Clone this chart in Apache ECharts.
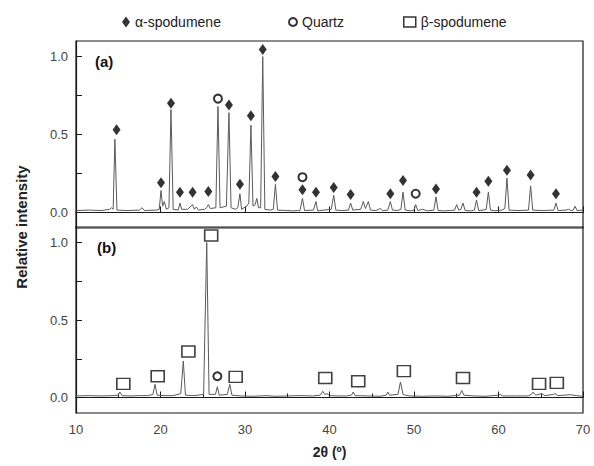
<!DOCTYPE html>
<html>
<head>
<meta charset="utf-8">
<script src="https://cdn.jsdelivr.net/npm/echarts@6/dist/echarts.min.js"></script>
<style>
  html, body { margin: 0; padding: 0; background: #fff; }
  #chart { width: 594px; height: 466px; }
</style>
</head>
<body>
<div id="chart"></div>
<script>
// XRD pattern (a): 2θ positions and relative intensities
const anglesA = [10.0, 11.5, 13.0, 14.0, 14.2, 14.4, 14.6, 14.85, 16.0, 17.5, 17.8, 18.1, 19.5, 19.85, 20.06, 20.25, 20.45, 20.7, 21.0, 21.24, 21.5, 22.1, 22.3, 22.5, 23.2, 23.5, 23.8, 24.0, 24.25, 24.5, 25.2, 25.45, 25.66, 25.9, 26.55, 26.8, 27.05, 27.8, 28.1, 28.35, 28.9, 29.15, 29.4, 29.6, 30.2, 30.45, 30.7, 30.95, 31.2, 31.4, 31.6, 31.85, 32.1, 32.35, 33.0, 33.35, 33.6, 33.85, 35.0, 35.6, 36.5, 36.8, 37.05, 38.1, 38.4, 38.6, 39.3, 40.2, 40.5, 40.75, 41.5, 42.25, 42.5, 42.75, 43.7, 44.0, 44.25, 44.6, 44.85, 45.5, 46.0, 46.3, 46.9, 47.2, 47.45, 48.0, 48.45, 48.7, 48.95, 49.6, 50.0, 50.2, 50.45, 51.0, 51.6, 52.35, 52.6, 52.85, 53.5, 54.3, 54.8, 55.05, 55.3, 55.55, 55.8, 56.05, 56.8, 57.15, 57.4, 57.65, 58.2, 58.55, 58.8, 59.05, 59.6, 60.4, 60.75, 61.0, 61.25, 62.3, 63.55, 63.8, 64.05, 65.2, 66.55, 66.8, 67.05, 68.0, 68.3, 68.6, 68.85, 69.05, 69.3, 70.0];
const intensityA = [0.012, 0.015, 0.012, 0.02, 0.03, 0.02, 0.47, 0.015, 0.012, 0.015, 0.03, 0.012, 0.015, 0.02, 0.14, 0.04, 0.07, 0.02, 0.03, 0.66, 0.02, 0.015, 0.06, 0.02, 0.02, 0.035, 0.05, 0.02, 0.035, 0.015, 0.02, 0.03, 0.05, 0.025, 0.03, 0.68, 0.03, 0.04, 0.64, 0.03, 0.02, 0.03, 0.12, 0.02, 0.04, 0.06, 0.56, 0.04, 0.05, 0.09, 0.03, 0.03, 1.0, 0.02, 0.015, 0.02, 0.18, 0.015, 0.012, 0.01, 0.012, 0.09, 0.012, 0.015, 0.07, 0.01, 0.015, 0.02, 0.11, 0.015, 0.012, 0.015, 0.06, 0.015, 0.02, 0.07, 0.025, 0.07, 0.015, 0.012, 0.025, 0.01, 0.015, 0.07, 0.015, 0.012, 0.02, 0.13, 0.015, 0.01, 0.015, 0.05, 0.012, 0.02, 0.01, 0.015, 0.10, 0.012, 0.01, 0.012, 0.015, 0.05, 0.015, 0.02, 0.06, 0.012, 0.01, 0.015, 0.08, 0.012, 0.015, 0.02, 0.13, 0.015, 0.01, 0.015, 0.025, 0.22, 0.015, 0.012, 0.015, 0.17, 0.015, 0.012, 0.015, 0.06, 0.012, 0.015, 0.02, 0.012, 0.015, 0.04, 0.012, 0.015];

// XRD pattern (b)
const anglesB = [10.0, 11.5, 13.0, 14.5, 15.0, 15.2, 15.45, 16.5, 17.5, 18.5, 19.1, 19.35, 19.6, 20.5, 21.5, 22.4, 22.7, 22.95, 24.0, 25.1, 25.47, 25.75, 26.5, 26.73, 26.95, 27.9, 28.2, 28.45, 29.5, 31.0, 32.5, 33.5, 35.0, 36.5, 38.0, 38.9, 39.2, 39.45, 39.7, 40.0, 41.0, 42.0, 42.6, 42.8, 43.05, 44.5, 46.0, 46.7, 46.9, 47.1, 48.1, 48.4, 48.7, 49.0, 49.5, 51.0, 52.5, 54.0, 55.4, 55.65, 55.9, 57.0, 58.5, 60.0, 60.2, 60.5, 62.0, 63.5, 63.9, 64.1, 64.4, 65.1, 65.5, 66.5, 66.7, 67.0, 68.5, 69.2, 70.0];
const intensityB = [0.01, 0.012, 0.01, 0.012, 0.015, 0.035, 0.012, 0.01, 0.012, 0.012, 0.02, 0.085, 0.015, 0.012, 0.012, 0.025, 0.235, 0.015, 0.012, 0.02, 1.0, 0.02, 0.02, 0.07, 0.015, 0.02, 0.085, 0.015, 0.01, 0.008, 0.012, 0.008, 0.01, 0.012, 0.01, 0.015, 0.04, 0.02, 0.025, 0.012, 0.01, 0.01, 0.015, 0.035, 0.012, 0.01, 0.008, 0.015, 0.035, 0.015, 0.02, 0.10, 0.02, 0.015, 0.01, 0.008, 0.01, 0.008, 0.015, 0.045, 0.015, 0.01, 0.008, 0.015, 0.02, 0.01, 0.01, 0.01, 0.02, 0.035, 0.015, 0.025, 0.012, 0.02, 0.025, 0.012, 0.018, 0.012, 0.008];

// Phase markers for (a)
const alphaAngles = [14.8, 20.06, 21.24, 22.3, 23.8, 25.66, 28.1, 29.4, 30.7, 32.1, 33.6, 36.8, 38.4, 40.5, 42.5, 47.2, 48.7, 52.6, 57.4, 58.8, 61.0, 63.8, 66.8];
const alphaLevels = [0.53, 0.19, 0.70, 0.13, 0.13, 0.135, 0.69, 0.18, 0.62, 1.045, 0.23, 0.145, 0.13, 0.16, 0.115, 0.12, 0.205, 0.15, 0.13, 0.2, 0.27, 0.24, 0.12];
const quartzAnglesA = [26.8, 36.8, 50.2];
const quartzLevelsA = [0.73, 0.226, 0.12];

// Phase markers for (b)
const betaAngles = [15.6, 19.67, 23.3, 26.0, 28.9, 39.5, 43.4, 48.8, 55.8, 64.8, 66.9];
const betaLevels = [0.088, 0.137, 0.297, 1.045, 0.133, 0.126, 0.105, 0.17, 0.126, 0.088, 0.094];
const quartzAnglesB = [26.73];
const quartzLevelsB = [0.137];

// Axis ticks
const xTicks = [10, 20, 30, 40, 50, 60, 70];
const yLabelValues = [0, 0.5, 1.0];
const yTickValues = [0, 0.25, 0.5, 0.75, 1.0];

const zip = (xs, ys) => xs.map((x, i) => [x, ys[i]]);

const FONT = 'Liberation Sans, Arial, sans-serif';
const chart = echarts.init(document.getElementById('chart'), null, { renderer: 'svg' });

const lineColor = '#5a5a5a';
const axisColor = '#1a1a1a';

function makeX(gridIndex, showLabels) {
  return {
    type: 'value', gridIndex, min: xTicks[0], max: xTicks[xTicks.length - 1], interval: 10,
    axisLine: { show: true, lineStyle: { color: axisColor, width: 1.2 } },
    axisTick: { show: true, inside: true, length: 6, lineStyle: { color: axisColor } },
    minorTick: { show: showLabels, splitNumber: 2, length: 4, lineStyle: { color: axisColor } },
    axisLabel: { show: showLabels, color: '#444', fontFamily: FONT, fontSize: 13, margin: 10 },
    splitLine: { show: false },
    name: showLabels ? '2θ (º)' : '',
    nameLocation: 'middle', nameGap: 32,
    nameTextStyle: { fontFamily: FONT, fontSize: 14, fontWeight: 'bold', color: '#222' }
  };
}
function makeY(gridIndex) {
  return {
    type: 'value', gridIndex, min: -0.1, max: 1.1,
    axisLine: { show: true, lineStyle: { color: axisColor, width: 1.2 } },
    axisTick: { show: true, inside: true, length: 6, customValues: yTickValues, lineStyle: { color: axisColor } },
    axisLabel: { show: true, customValues: yLabelValues, color: '#444', fontFamily: FONT, fontSize: 13, margin: 8,
                 formatter: v => v.toFixed(1) },
    splitLine: { show: false }
  };
}

const legendText = { fontFamily: FONT, fontSize: 14, color: '#222' };

const option = {
  backgroundColor: '#fff',
  animation: false,
  grid: [
    { left: 76, right: 11, top: 41, height: 187, show: true, borderColor: axisColor, borderWidth: 1.2 },
    { left: 76, right: 11, top: 227, height: 186, show: true, borderColor: axisColor, borderWidth: 1.2 }
  ],
  xAxis: [makeX(0, false), makeX(1, true)],
  yAxis: [makeY(0), makeY(1)],
  legend: [
    { data: ['α-spodumene'], left: 117, top: 10, icon: 'diamond', itemWidth: 8, itemHeight: 11,
      itemStyle: { color: '#000', borderWidth: 0 }, textStyle: legendText },
    { data: ['Quartz'], left: 283, top: 10, icon: 'circle', itemWidth: 8, itemHeight: 8,
      itemStyle: { color: '#fff', borderColor: '#000', borderWidth: 2 }, textStyle: legendText },
    { data: ['β-spodumene'], left: 398, top: 10, icon: 'rect', itemWidth: 12, itemHeight: 10,
      itemStyle: { color: '#fff', borderColor: '#000', borderWidth: 1.5 }, textStyle: legendText }
  ],
  graphic: [
    { type: 'text', left: 95, top: 54, style: { text: '(a)', font: 'bold 15px ' + FONT, fill: '#111' } },
    { type: 'text', left: 97, top: 240, style: { text: '(b)', font: 'bold 15px ' + FONT, fill: '#111' } },
    { type: 'text', x: 14, y: 227, rotation: Math.PI / 2,
      style: { text: 'Relative intensity', font: 'bold 15px ' + FONT, fill: '#222', align: 'center', verticalAlign: 'top' } }
  ],
  series: [
    { type: 'line', name: 'pattern a', xAxisIndex: 0, yAxisIndex: 0, data: zip(anglesA, intensityA),
      showSymbol: false, lineStyle: { color: lineColor, width: 1 }, z: 2 },
    { type: 'line', name: 'pattern b', xAxisIndex: 1, yAxisIndex: 1, data: zip(anglesB, intensityB),
      showSymbol: false, lineStyle: { color: lineColor, width: 1 }, z: 2 },
    { type: 'scatter', name: 'α-spodumene', xAxisIndex: 0, yAxisIndex: 0, data: zip(alphaAngles, alphaLevels),
      symbol: 'diamond', symbolSize: [8, 11], itemStyle: { color: '#000' }, z: 3 },
    { type: 'scatter', name: 'Quartz', xAxisIndex: 0, yAxisIndex: 0, data: zip(quartzAnglesA, quartzLevelsA),
      symbol: 'circle', symbolSize: 8, itemStyle: { color: '#fff', borderColor: '#000', borderWidth: 2 }, z: 3 },
    { type: 'scatter', name: 'Quartz', xAxisIndex: 1, yAxisIndex: 1, data: zip(quartzAnglesB, quartzLevelsB),
      symbol: 'circle', symbolSize: 8, itemStyle: { color: '#fff', borderColor: '#000', borderWidth: 2 }, z: 3 },
    { type: 'scatter', name: 'β-spodumene', xAxisIndex: 1, yAxisIndex: 1, data: zip(betaAngles, betaLevels),
      symbol: 'rect', symbolSize: [13, 11], itemStyle: { color: '#fff', borderColor: '#111', borderWidth: 1.5 }, z: 3 }
  ]
};
chart.setOption(option);
</script>
</body>
</html>
